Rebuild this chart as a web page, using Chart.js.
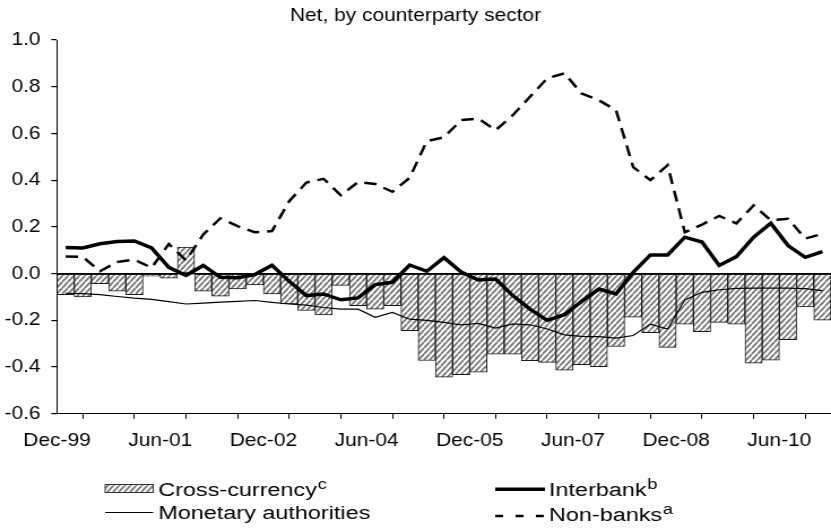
<!DOCTYPE html>
<html>
<head>
<meta charset="utf-8">
<script src="https://cdn.jsdelivr.net/npm/chart.js@4.4.1/dist/chart.umd.min.js"></script>
<style>
html, body { margin: 0; padding: 0; background: #fff; }
#myChart { display: block; }
</style>
</head>
<body>
<!-- the reference is stretched sideways, so the canvas is drawn narrower and scaled up -->
<canvas id="myChart" width="735" height="529" style="width:831px;height:529px"></canvas>
<script>
const quarters = ["Dec-99", "Mar-00", "Jun-00", "Sep-00", "Dec-00", "Mar-01", "Jun-01", "Sep-01", "Dec-01",
    "Mar-02", "Jun-02", "Sep-02", "Dec-02", "Mar-03", "Jun-03", "Sep-03", "Dec-03", "Mar-04", "Jun-04",
    "Sep-04", "Dec-04", "Mar-05", "Jun-05", "Sep-05", "Dec-05", "Mar-06", "Jun-06", "Sep-06", "Dec-06",
    "Mar-07", "Jun-07", "Sep-07", "Dec-07", "Mar-08", "Jun-08", "Sep-08", "Dec-08", "Mar-09", "Jun-09",
    "Sep-09", "Dec-09", "Mar-10", "Jun-10", "Sep-10", "Dec-10"];

const crossCurrency = [-0.09, -0.10, -0.043, -0.075, -0.09, -0.011, -0.019, 0.114, -0.075, -0.097,
    -0.065, -0.048, -0.087, -0.13, -0.158, -0.177, -0.05, -0.137, -0.152, -0.137,
    -0.244, -0.372, -0.443, -0.433, -0.422, -0.345, -0.345, -0.373, -0.38, -0.413,
    -0.39, -0.398, -0.312, -0.186, -0.253, -0.316, -0.216, -0.248, -0.209, -0.216,
    -0.383, -0.37, -0.283, -0.142, -0.199];
const interbank = [0.112, 0.11, 0.128, 0.137, 0.14, 0.11, 0.027, -0.008, 0.035, -0.016,
    -0.018, -0.004, 0.036, -0.033, -0.094, -0.087, -0.112, -0.104, -0.047, -0.037,
    0.037, 0.01, 0.068, 0.007, -0.027, -0.023, -0.094, -0.152, -0.2, -0.176,
    -0.119, -0.066, -0.087, 0.006, 0.08, 0.08, 0.156, 0.135, 0.035, 0.073,
    0.156, 0.216, 0.12, 0.07, 0.094];
const monetary = [-0.084, -0.086, -0.09, -0.098, -0.105, -0.11, -0.12, -0.13, -0.126, -0.122,
    -0.119, -0.115, -0.123, -0.13, -0.135, -0.145, -0.152, -0.152, -0.187, -0.166,
    -0.195, -0.2, -0.209, -0.219, -0.213, -0.233, -0.215, -0.219, -0.237, -0.262,
    -0.269, -0.27, -0.276, -0.265, -0.216, -0.237, -0.113, -0.08, -0.069, -0.063,
    -0.062, -0.062, -0.062, -0.064, -0.073];
const nonBanks = [0.073, 0.072, 0.01, 0.05, 0.06, 0.025, 0.127, 0.057, 0.167, 0.237,
    0.203, 0.177, 0.182, 0.31, 0.39, 0.406, 0.335, 0.392, 0.384, 0.35,
    0.41, 0.567, 0.584, 0.657, 0.664, 0.614, 0.678, 0.757, 0.836, 0.857,
    0.771, 0.742, 0.70, 0.456, 0.40, 0.464, 0.177, 0.21, 0.247, 0.215,
    0.292, 0.228, 0.235, 0.15, 0.17];

const fontFamily = "'Liberation Sans', Arial, sans-serif";

// diagonal grey hatching for the cross-currency bars
function makeHatch() {
    const tile = document.createElement("canvas");
    tile.width = 5;
    tile.height = 6;
    const g = tile.getContext("2d");
    g.fillStyle = "#fff";
    g.fillRect(0, 0, 5, 6);
    g.strokeStyle = "#7a7a7a";
    g.lineWidth = 1.8;
    g.beginPath();
    for (let k = -1; k <= 1; k++) {
        g.moveTo(k * 5, 6);
        g.lineTo(k * 5 + 5, 0);
    }
    g.stroke();
    return g.createPattern(tile, "repeat");
}
const hatch = makeHatch();

// each quarter sits in the middle of its slot, ticks fall on slot edges
const toPoints = (arr) => arr.map((v, i) => ({ x: i + 0.5, y: v }));

const legendPlugin = {
    id: "sectorLegend",
    afterDraw(chart) {
        const c = chart.ctx;
        c.save();
        c.fillStyle = "#000";
        c.strokeStyle = "#000";
        c.textBaseline = "alphabetic";
        c.textAlign = "left";

        // legend text is a little wider than the axis text in the original
        const label = (text, sup, x, y) => {
            c.save();
            c.translate(x, y);
            c.scale(1.15, 1);
            c.font = "18px " + fontFamily;
            c.fillText(text, 0, 0);
            if (sup) {
                const w = c.measureText(text).width;
                c.font = "14px " + fontFamily;
                c.fillText(sup, w + 0.5, -6.5);
            }
            c.restore();
        };

        // Cross-currency
        c.fillStyle = hatch;
        c.fillRect(93, 484.5, 42.5, 8);
        c.lineWidth = 1;
        c.strokeStyle = "#333";
        c.strokeRect(93, 484.5, 42.5, 8);
        c.fillStyle = "#000";
        label("Cross-currency", "c", 140, 495.5);

        // Monetary authorities
        c.strokeStyle = "#000";
        c.lineWidth = 1.2;
        c.beginPath();
        c.moveTo(93, 512.5);
        c.lineTo(135.5, 512.5);
        c.stroke();
        label("Monetary authorities", "", 140, 518.5);

        // Interbank
        c.lineWidth = 3.5;
        c.beginPath();
        c.moveTo(438, 489.3);
        c.lineTo(482, 489.3);
        c.stroke();
        label("Interbank", "b", 485.6, 495.5);

        // Non-banks
        c.lineWidth = 2.5;
        c.setLineDash([7, 11]);
        c.beginPath();
        c.moveTo(438, 516);
        c.lineTo(483, 516);
        c.stroke();
        c.setLineDash([]);
        label("Non-banks", "a", 485.6, 520.5);

        c.restore();
    },
};

const data = {
    datasets: [
        {
            type: "line",
            label: "Interbank",
            data: toPoints(interbank),
            borderColor: "#000",
            borderWidth: 3.5,
            pointRadius: 0,
            tension: 0,
            order: 1,
        },
        {
            type: "line",
            label: "Non-banks",
            data: toPoints(nonBanks),
            borderColor: "#000",
            borderWidth: 2.5,
            borderDash: [11, 7],
            pointRadius: 0,
            tension: 0,
            order: 2,
        },
        {
            type: "line",
            label: "Monetary authorities",
            data: toPoints(monetary),
            borderColor: "#000",
            borderWidth: 1.2,
            pointRadius: 0,
            tension: 0,
            order: 3,
        },
        {
            type: "bar",
            label: "Cross-currency",
            data: toPoints(crossCurrency),
            backgroundColor: hatch,
            borderColor: "#1a1a1a",
            borderWidth: 1,
            borderSkipped: false,
            barPercentage: 1,
            categoryPercentage: 1,
            order: 4,
        },
    ],
};

const config = {
    type: "bar",
    data,
    options: {
        responsive: false,
        animation: false,
        events: [],
        layout: {
            padding: { left: 0, right: 0, top: 0, bottom: 66 },
        },
        plugins: {
            legend: { display: false },
            tooltip: { enabled: false },
            title: {
                display: true,
                text: "Net, by counterparty sector",
                color: "#000",
                font: { family: fontFamily, size: 18.5, weight: "normal" },
                padding: { top: 5, bottom: 12.8 },
            },
        },
        scales: {
            x: {
                type: "linear",
                min: 0,
                max: 45,
                offset: false,
                ticks: {
                    stepSize: 3,
                    autoSkip: false,
                    maxRotation: 0,
                    padding: 11,
                    color: "#000",
                    font: { family: fontFamily, size: 18.5 },
                    callback: (value) => (value % 6 === 0 && quarters[value]) ? quarters[value] : "",
                },
                grid: {
                    drawOnChartArea: false,
                    tickLength: 5,
                    color: "#000",
                },
                border: { color: "#000", width: 1 },
                afterFit: (scale) => { scale.paddingRight = 0; },
            },
            y: {
                min: -0.6,
                max: 1.0,
                ticks: {
                    stepSize: 0.2,
                    padding: 9.5,
                    color: "#000",
                    font: { family: fontFamily, size: 18.5 },
                    callback: (value) => value.toFixed(1),
                },
                grid: {
                    color: (ctx) => (ctx.tick && Math.abs(ctx.tick.value) < 1e-9) ? "#000" : "rgba(0,0,0,0)",
                    tickColor: "#000",
                    tickLength: 5,
                    lineWidth: 1.2,
                },
                border: { color: "#000", width: 1 },
                afterFit: (scale) => { scale.width = 50.4; },
            },
        },
    },
    plugins: [legendPlugin],
};

const ctx = document.getElementById("myChart").getContext("2d");
const chart = new Chart(ctx, config);
</script>
</body>
</html>
